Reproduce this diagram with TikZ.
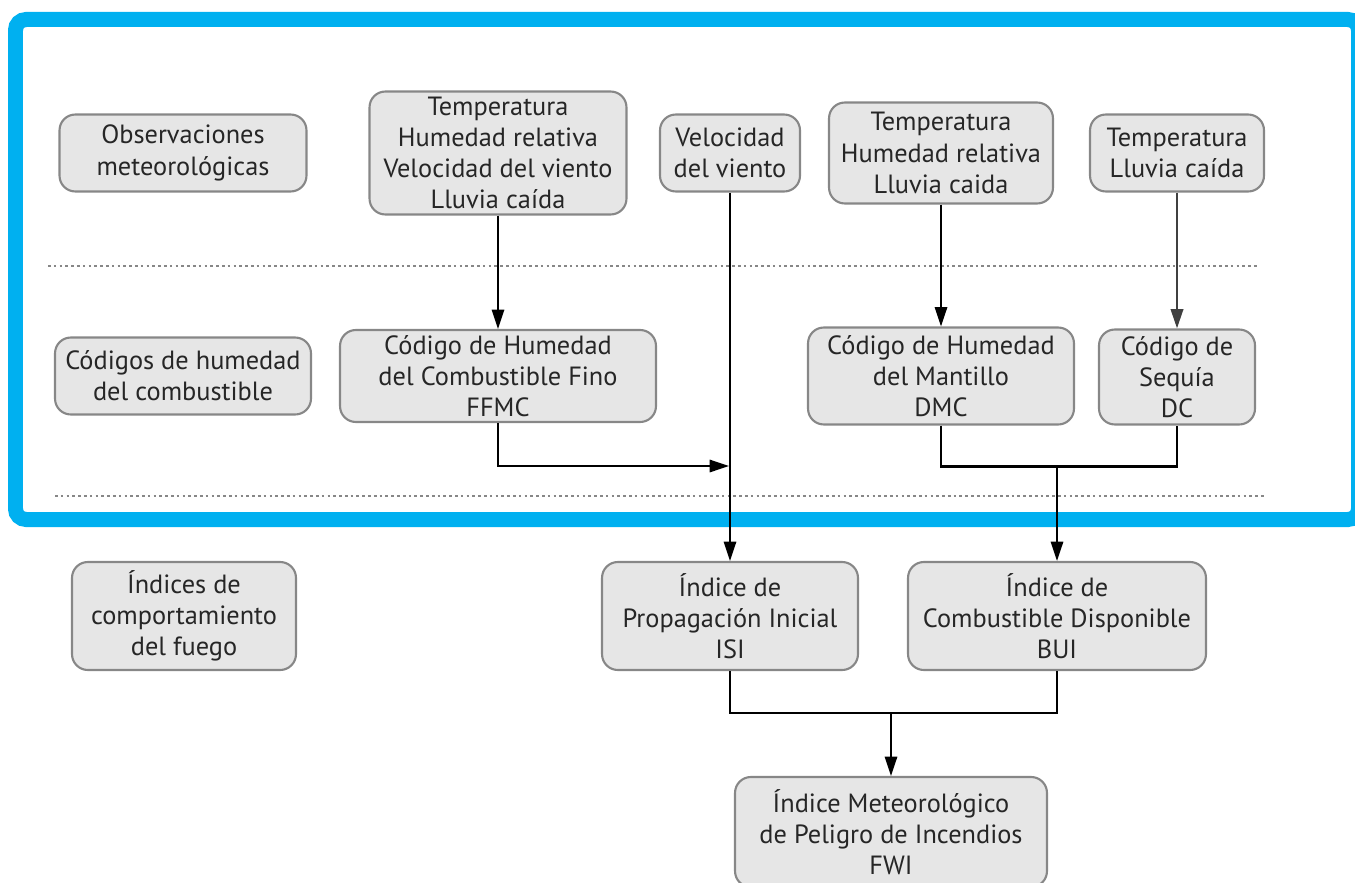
\documentclass[tikz,border=0pt]{standalone}
\usepackage{fontspec}
\setmainfont{PT Sans}
\usetikzlibrary{arrows.meta}
\definecolor{framecyan}{RGB}{0,176,240}
\definecolor{boxgray}{RGB}{230,230,230}
\definecolor{edgegray}{RGB}{135,135,135}

\begin{document}
\begin{tikzpicture}[x=0.02cm,y=-0.02cm,
	infobox/.style={draw=edgegray,fill=boxgray,line width=1.2pt,rounded corners=9pt,align=center,inner sep=0pt,text=black!85,font=\fontsize{15}{17.8}\selectfont},
	sep line/.style={edgegray,line width=1.4pt,dash pattern=on 1.5pt off 1.8pt},
	link/.style={line width=1.2pt},
	flow/.style={link,-{Triangle[length=11pt,width=7pt]}}]
	\useasboundingbox (0,0) rectangle (1355,882);
	\draw[framecyan,line width=0.3cm,rounded corners=6pt] (15.5,19.5) rectangle (1358.5,519.5);
	\foreach \y/\a/\b in {266/48/1258,496/55/1265} \draw[sep line] (\a,\y) -- (\b,\y);
	% row labels
	\node[infobox,minimum width=4.94cm,minimum height=1.54cm] (obs) at (183,153) {Observaciones\\meteorológicas};
	\node[infobox,minimum width=5.12cm,minimum height=1.54cm] (codes) at (183,376) {Códigos de humedad\\del combustible};
	\node[infobox,minimum width=4.48cm,minimum height=2.16cm] (indices) at (184,616) {Índices de\\comportamiento\\del fuego};
	% weather inputs
	\node[infobox,minimum width=5.14cm,minimum height=2.46cm] (t4) at (498,153) {Temperatura\\Humedad relativa\\Velocidad del viento\\Lluvia caída};
	\node[infobox,minimum width=2.8cm,minimum height=1.54cm] (wind) at (730,153) {Velocidad\\del viento};
	\node[infobox,minimum width=4.48cm,minimum height=2.02cm] (t3) at (941,153) {Temperatura\\Humedad relativa\\Lluvia caida};
	\node[infobox,minimum width=3.48cm,minimum height=1.54cm] (t2) at (1177,153) {Temperatura\\Lluvia caída};
	% moisture codes
	\node[infobox,minimum width=6.32cm,minimum height=1.84cm] (ffmc) at (498,376) {Código de Humedad\\del Combustible Fino\\FFMC};
	\node[infobox,minimum width=5.32cm,minimum height=1.94cm] (dmc) at (941,376) {Código de Humedad\\del Mantillo\\DMC};
	\node[infobox,minimum width=3.12cm,minimum height=1.9cm] (dc) at (1177,377) {Código de\\Sequía\\DC};
	% fire behaviour indices
	\node[infobox,minimum width=5.12cm,minimum height=2.16cm] (isi) at (730,616) {Índice de\\Propagación Inicial\\ISI};
	\node[infobox,minimum width=5.96cm,minimum height=2.16cm] (bui) at (1057,616) {Índice de\\Combustible Disponible\\BUI};
	\node[infobox,minimum width=6.24cm,minimum height=2.2cm] (fwi) at (891,832) {Índice Meteorológico\\de Peligro de Incendios\\FWI};
	% connectors
	\coordinate (wjoin) at (729,466);
	\coordinate (bjoin) at (1057,466);
	\coordinate (fjoin) at (891,712);
	\draw[flow] (t4.south) -- (ffmc.north);
	\draw[flow] (t3.south) -- (dmc.north);
	\draw[flow,black!75,line width=1.5pt] (t2.south) -- (dc.north);
	\draw[flow] (wind.south) -- (isi.north);
	\draw[flow] (ffmc.south) |- (wjoin);
	\draw[link] (dmc.south) -- ++(0,41) -| (dc.south);
	\draw[flow] (bjoin) -- (bui.north);
	\draw[link] (isi.south) -- ++(0,42) -| (bui.south);
	\draw[flow] (fjoin) -- (fwi.north);
\end{tikzpicture}
\end{document}
